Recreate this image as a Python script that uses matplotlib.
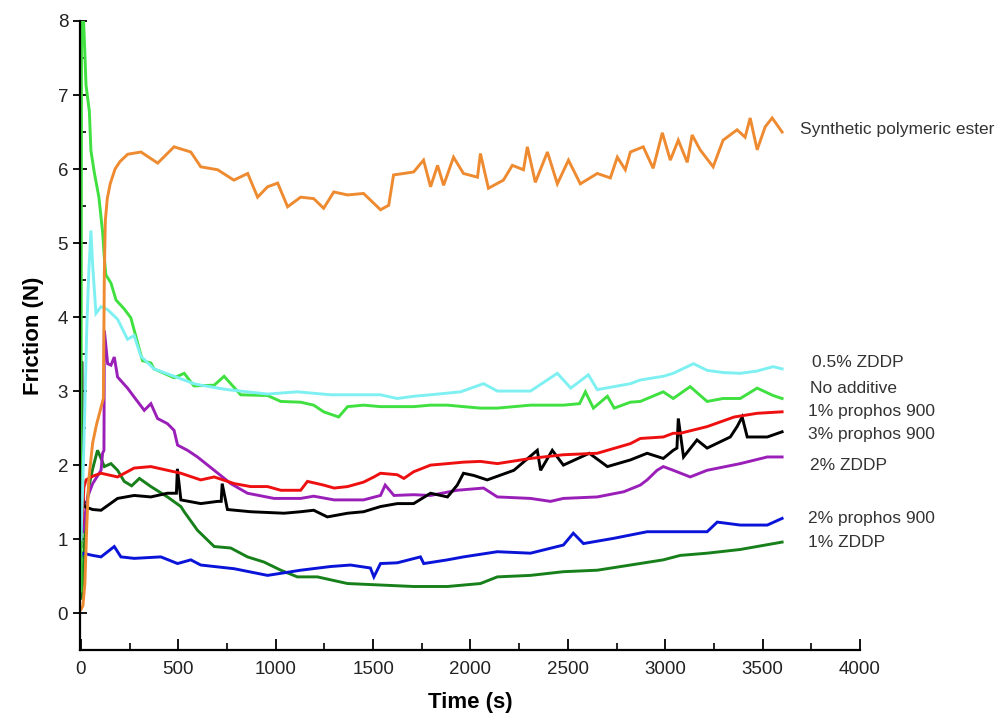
import matplotlib
matplotlib.use("Agg")
import matplotlib.pyplot as plt
from matplotlib.ticker import MultipleLocator

plt.rcParams['font.family'] = ['Liberation Sans', 'DejaVu Sans']

# values (time in s, friction in N)
t_ester = [0, 10, 20, 30, 40, 60, 80, 100, 115, 120, 125, 135, 150, 175, 200, 240, 308, 394, 478, 564,
           615, 702, 785, 856, 907, 958, 1010, 1061, 1128, 1195, 1246, 1298, 1369, 1451, 1538, 1580, 1605,
           1708, 1759, 1795, 1831, 1862, 1913, 1964, 2036, 2051, 2092, 2169, 2215, 2272, 2292, 2333, 2395,
           2446, 2503, 2564, 2651, 2718, 2754, 2795, 2821, 2887, 2938, 2985, 3026, 3067, 3113, 3138, 3179,
           3246, 3297, 3369, 3410, 3436, 3472, 3513, 3549, 3600]
f_ester = [0.05, 0.1, 0.4, 1.2, 1.8, 2.3, 2.55, 2.75, 2.9, 4.6, 5.3, 5.6, 5.8, 6.0, 6.1, 6.2, 6.23, 6.08, 6.3, 6.23,
           6.03, 5.99, 5.85, 5.94, 5.62, 5.76, 5.81, 5.49, 5.62, 5.6, 5.47, 5.69, 5.65, 5.67, 5.45, 5.51, 5.92,
           5.96, 6.12, 5.76, 6.05, 5.78, 6.16, 5.94, 5.89, 6.21, 5.74, 5.85, 6.05, 5.99, 6.3, 5.82, 6.23,
           5.8, 6.12, 5.8, 5.94, 5.88, 6.16, 5.99, 6.23, 6.3, 6.01, 6.49, 6.12, 6.39, 6.09, 6.46, 6.26,
           6.03, 6.39, 6.53, 6.43, 6.69, 6.26, 6.57, 6.69, 6.5]

t_noadd = [0, 3, 8, 15, 26, 43, 51, 68, 92, 111, 120, 128, 154, 180, 222, 256, 291, 316, 359, 375, 478, 530,
           580, 684, 735, 820, 958, 1026, 1128, 1195, 1246, 1323, 1369, 1451, 1538, 1624, 1708, 1795, 1882,
           1964, 2051, 2138, 2308, 2477, 2560, 2590, 2631, 2703, 2738, 2821, 2872, 2990, 3041, 3128, 3215,
           3297, 3385, 3472, 3554, 3600]
f_noadd = [0.3, 8.5, 8.3, 7.9, 7.13, 6.78, 6.25, 5.96, 5.62, 5.15, 4.8, 4.57, 4.46, 4.23, 4.11, 3.99, 3.65, 3.41,
           3.38, 3.3, 3.18, 3.24, 3.07, 3.08, 3.2, 2.95, 2.94, 2.86, 2.85, 2.81, 2.72, 2.65, 2.79, 2.81, 2.79,
           2.79, 2.79, 2.81, 2.81, 2.79, 2.77, 2.77, 2.81, 2.81, 2.83, 2.99, 2.77, 2.93, 2.77, 2.85, 2.86, 2.99,
           2.9, 3.06, 2.86, 2.9, 2.9, 3.04, 2.94, 2.9]

t_zddp05 = [0, 10, 20, 30, 40, 51, 60, 77, 103, 137, 188, 239, 273, 308, 375, 478, 580, 615, 750, 958, 1111,
            1282, 1450, 1538, 1624, 1708, 1795, 1949, 2067, 2138, 2308, 2446, 2515, 2605, 2651, 2821, 2872,
            2990, 3041, 3145, 3215, 3300, 3385, 3470, 3554, 3600]
f_zddp05 = [1.0, 1.8, 2.8, 3.87, 4.6, 5.17, 4.7, 4.05, 4.14, 4.1, 3.97, 3.7, 3.75, 3.47, 3.3, 3.2, 3.1, 3.08,
            3.02, 2.96, 2.99, 2.95, 2.95, 2.95, 2.9, 2.93, 2.95, 2.99, 3.1, 3.0, 3.0, 3.24, 3.04, 3.22, 3.02,
            3.1, 3.15, 3.2, 3.24, 3.37, 3.28, 3.25, 3.24, 3.27, 3.33, 3.3]

t_pp1 = [5, 15, 26, 60, 103, 188, 273, 359, 444, 513, 615, 684, 787, 871, 958, 1026, 1128, 1163, 1246, 1300,
         1369, 1451, 1504, 1538, 1624, 1658, 1708, 1795, 1882, 1964, 2051, 2138, 2308, 2477, 2651, 2821, 2872,
         2990, 3041, 3077, 3215, 3354, 3472, 3600]
f_pp1 = [1.2, 1.7, 1.8, 1.85, 1.89, 1.84, 1.96, 1.98, 1.93, 1.89, 1.8, 1.84, 1.75, 1.71, 1.71, 1.66, 1.66, 1.78,
         1.73, 1.69, 1.71, 1.77, 1.84, 1.89, 1.87, 1.82, 1.91, 2.0, 2.02, 2.04, 2.05, 2.02, 2.09, 2.14, 2.16,
         2.29, 2.36, 2.38, 2.43, 2.43, 2.52, 2.65, 2.7, 2.72]

t_pp3 = [0, 4, 8, 17, 60, 103, 188, 273, 359, 444, 490, 495, 513, 615, 702, 720, 725, 752, 871, 1043, 1128,
         1195, 1265, 1369, 1451, 1538, 1624, 1708, 1795, 1882, 1932, 1964, 2017, 2086, 2223, 2343, 2360, 2420,
         2477, 2610, 2703, 2821, 2907, 2990, 3041, 3060, 3067, 3094, 3163, 3215, 3334, 3369, 3395, 3421, 3524,
         3600]
f_pp3 = [0.9, 3.4, 1.6, 1.44, 1.4, 1.39, 1.55, 1.59, 1.57, 1.62, 1.62, 1.95, 1.53, 1.48, 1.51, 1.51, 1.75, 1.4,
         1.37, 1.35, 1.37, 1.39, 1.3, 1.35, 1.37, 1.44, 1.48, 1.48, 1.62, 1.57, 1.73, 1.89, 1.86, 1.8, 1.93, 2.2,
         1.93, 2.2, 2.0, 2.16, 1.98, 2.07, 2.16, 2.09, 2.2, 2.23, 2.63, 2.11, 2.34, 2.23, 2.38, 2.52, 2.65, 2.38,
         2.38, 2.45]

t_zddp2 = [10, 34, 60, 103, 111, 118, 120, 137, 154, 171, 188, 239, 273, 325, 359, 393, 444, 478, 496, 547, 598,
           684, 769, 855, 991, 1128, 1195, 1300, 1451, 1538, 1562, 1607, 1708, 1795, 1931, 2067, 2138, 2308, 2411,
           2477, 2651, 2787, 2872, 2907, 2958, 2990, 3041, 3128, 3215, 3385, 3524, 3600]
f_zddp2 = [1.1, 1.57, 1.75, 1.93, 2.16, 2.2, 3.82, 3.37, 3.35, 3.46, 3.19, 3.04, 2.92, 2.74, 2.83, 2.63, 2.56,
           2.47, 2.27, 2.2, 2.11, 1.93, 1.75, 1.62, 1.55, 1.55, 1.58, 1.53, 1.53, 1.59, 1.73, 1.59, 1.6, 1.59,
           1.66, 1.69, 1.57, 1.55, 1.51, 1.55, 1.57, 1.64, 1.73, 1.8, 1.93, 1.98, 1.93, 1.84, 1.93, 2.02, 2.11,
           2.11]

t_pp2 = [0, 9, 60, 103, 171, 205, 273, 410, 496, 564, 615, 787, 958, 1128, 1282, 1384, 1486, 1504, 1538, 1624,
         1743, 1760, 1882, 1964, 2138, 2308, 2477, 2528, 2580, 2734, 2907, 3041, 3215, 3267, 3385, 3524, 3600]
f_pp2 = [0.75, 0.81, 0.78, 0.76, 0.9, 0.76, 0.74, 0.76, 0.67, 0.72, 0.65, 0.6, 0.51, 0.58, 0.63, 0.65, 0.61,
         0.49, 0.67, 0.68, 0.76, 0.67, 0.72, 0.76, 0.83, 0.81, 0.92, 1.08, 0.94, 1.01, 1.1, 1.1, 1.1, 1.23, 1.19,
         1.19, 1.28]

t_zddp1 = [5, 10, 25, 40, 60, 85, 100, 120, 154, 188, 222, 260, 300, 359, 444, 513, 530, 598, 684, 769, 855,
           940, 1026, 1111, 1214, 1282, 1369, 1538, 1708, 1882, 2051, 2138, 2308, 2477, 2651, 2821, 2990, 3077,
           3215, 3385, 3600]
f_zddp1 = [0.2, 0.5, 1.3, 1.7, 1.95, 2.2, 2.11, 1.98, 2.02, 1.93, 1.78, 1.72, 1.82, 1.71, 1.57, 1.44, 1.37, 1.12,
           0.9, 0.88, 0.76, 0.69, 0.58, 0.49, 0.49, 0.45, 0.4, 0.38, 0.36, 0.36, 0.4, 0.49, 0.51, 0.56, 0.58,
           0.65, 0.72, 0.78, 0.81, 0.86, 0.96]

labels = ["Synthetic polymeric ester", "0.5% ZDDP", "No additive", "1% prophos 900",
          "3% prophos 900", "2% ZDDP", "2% prophos 900", "1% ZDDP"]
label_x = [3692, 3754, 3745, 3733, 3733, 3745, 3733, 3733]
label_y = [6.54, 3.38, 3.04, 2.72, 2.41, 2.0, 1.28, 0.95]

series = [(t_zddp1, f_zddp1, "#17801b"),
          (t_pp2, f_pp2, "#0a14d8"),
          (t_zddp2, f_zddp2, "#9a1fb8"),
          (t_pp3, f_pp3, "#000000"),
          (t_pp1, f_pp1, "#ee1010"),
          (t_noadd, f_noadd, "#3fe03f"),
          (t_zddp05, f_zddp05, "#7ef0f2"),
          (t_ester, f_ester, "#ee8a30")]

fig = plt.figure(figsize=(10, 7.24), dpi=100)
ax = fig.add_axes([0.08, 0.102, 0.78, 0.869])

for t, f, c in series:
    ax.plot(t, f, color=c, lw=2.1, solid_joinstyle="miter")

for lab, x, y in zip(labels, label_x, label_y):
    ax.text(x, y, lab, fontsize=12.5, color="#333333", va="center", ha="left", clip_on=False)

ax.set_xlim(-5, 4000)
ax.xaxis.set_major_locator(MultipleLocator(500))
ax.xaxis.set_minor_locator(MultipleLocator(250))
ax.yaxis.set_minor_locator(MultipleLocator(0.5))
ax.set_yticks(range(0, 9))
ax.set_ylim(-0.5, 8)

for s in ["top", "right"]:
    ax.spines[s].set_visible(False)
for s in ["left", "bottom"]:
    ax.spines[s].set_linewidth(1.6)

ax.tick_params(axis="x", which="major", direction="in", length=8, width=1.3, labelsize=13.5,
               labelcolor="#222222", pad=8)
ax.tick_params(axis="x", which="minor", direction="in", length=5, width=1.2)
ax.tick_params(axis="y", which="major", direction="inout", length=10, width=1.3, labelsize=13.5,
               labelcolor="#222222")
ax.tick_params(axis="y", which="minor", direction="in", length=4, width=1.2)

ax.set_xlabel("Time (s)", fontsize=16, fontweight="bold", labelpad=10)
ax.set_ylabel("Friction (N)", fontsize=16, fontweight="bold", labelpad=10)

fig.savefig("out.png", dpi=100)
